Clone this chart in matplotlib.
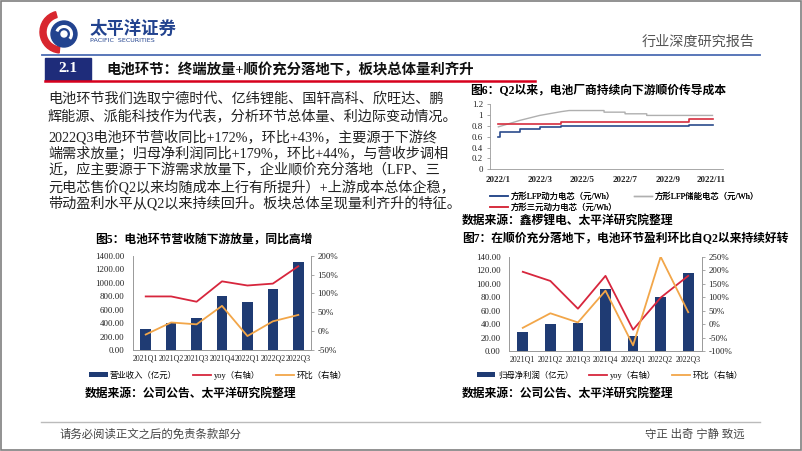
import matplotlib
matplotlib.use("Agg")
import matplotlib.pyplot as plt
import matplotlib.dates as mdates
from matplotlib.patches import Rectangle, Wedge, Circle, Arc
from matplotlib.ticker import FuncFormatter, FixedLocator
from datetime import datetime

plt.rcParams['font.family'] = ['Liberation Serif', 'Noto Sans CJK SC']
plt.rcParams['axes.unicode_minus'] = False

# ---- data ----
quarters = ['2021Q1', '2021Q2', '2021Q3', '2021Q4', '2022Q1', '2022Q2', '2022Q3']

# 图5 营收
revenue = [315, 398, 472, 806, 712, 910, 1305]
revenue_yoy = [92, 92, 78, 132, 121, 126, 172]
revenue_qoq = [-9, 23, 18, 67, -13, 26, 43]

# 图7 归母净利润
profit = [28.5, 39.5, 41.5, 92.0, 22.5, 80.8, 116.5]
profit_yoy = [194, 160, 57, 179, -21, 98, 179]
profit_qoq = [-14, 40, 6, 124, -79, 250, 44]

# 图6 电芯价格 (元/Wh)
lfp_power_dates = ['2022-01-01', '2022-01-04', '2022-02-01', '2022-03-01',
                   '2022-04-01', '2022-10-01', '2022-11-03']
lfp_power = [0.59, 0.69, 0.74, 0.77, 0.80, 0.82, 0.82]
lfp_storage_dates = ['2022-01-01', '2022-02-01', '2022-03-01', '2022-04-01',
                     '2022-04-12', '2022-06-01', '2022-06-01', '2022-07-01',
                     '2022-07-01', '2022-08-01', '2022-08-01', '2022-11-03']
lfp_storage = [0.78, 0.90, 0.99, 1.06, 1.08, 1.08, 1.05, 1.05,
               1.02, 1.02, 0.99, 0.99]
ncm_power_dates = ['2022-01-01', '2022-04-01', '2022-10-01', '2022-11-03']
ncm_power = [0.83, 0.875, 0.92, 0.92]

body_lines = [
    "电池环节我们选取宁德时代、亿纬锂能、国轩高科、欣旺达、鹏",
    "辉能源、派能科技作为代表，分析环节总体量、利边际变动情况。",
    "2022Q3电池环节营收同比+172%，环比+43%，主要源于下游终",
    "端需求放量；归母净利润同比+179%，环比+44%，与营收步调相",
    "近，应主要源于下游需求放量下，企业顺价充分落地（LFP、三",
    "元电芯售价Q2以来均随成本上行有所提升）+上游成本总体企稳，",
    "带动盈利水平从Q2以来持续回升。板块总体呈现量利齐升的特征。",
]

W, H = 802, 451
NAVY = '#1F3B73'
RED = '#D7263D'
ORANGE = '#F2A649'
SPINE = '#9A9A9A'
TXT = '#222222'

fig = plt.figure(figsize=(W / 100, H / 100), dpi=100)
fig.patch.set_facecolor('white')

# background canvas in pixel coordinates
bg = fig.add_axes([0, 0, 1, 1])
bg.set_xlim(0, W)
bg.set_ylim(H, 0)
bg.axis('off')


def px_axes(left, top, right, bottom):
    return fig.add_axes([left / W, 1 - bottom / H, (right - left) / W, (bottom - top) / H])


# slide frame
bg.add_patch(Rectangle((0.8, 0.8), W - 1.6, H - 1.6, fill=False, ec='#7F7F7F', lw=1.2))

# logo
bg.add_patch(Wedge((61, 32), 21, 95, 255, width=6, color='#D8262E'))
bg.add_patch(Circle((64, 34), 13, color='#22438F'))
bg.add_patch(Arc((64, 34), 15, 15, theta1=200, theta2=40, color='white', lw=2.2))
bg.add_patch(Circle((64, 34), 3, color='white'))
bg.text(90, 29, '太平洋证券', fontsize=12.5, fontweight='bold', color='#22438F',
        va='center', ha='left', family=['Noto Sans CJK SC'])
bg.text(90, 40, 'PACIFIC  SECURITIES', fontsize=4.6, color='#22438F',
        va='center', ha='left', family=['DejaVu Sans'])

bg.text(755, 42, '行业深度研究报告', fontsize=10.2, color='#555555', ha='right', va='center')
bg.plot([42, 760], [54.5, 54.5], color='#4C6CB3', lw=1.3)

# section header
bg.add_patch(Rectangle((45, 58), 46, 22, color='#1E2C7A'))
bg.text(68, 69, '2.1', color='white', fontsize=11, fontweight='bold', ha='center', va='center')
bg.text(106, 69.5, '电池环节：终端放量+顺价充分落地下，板块总体量利齐升',
        fontsize=10.4, fontweight='bold', color='#111111', ha='left', va='center')
bg.plot([45, 535], [81, 81], color='#D7001D', lw=1.8)

# body text
for y, line in zip([99, 117, 137, 154, 170, 187, 203], body_lines):
    bg.text(48, y, line, fontsize=10.2, color=TXT, ha='left', va='center')

# footer
bg.plot([41, 760], [421.5, 421.5], color='#BBBBBB', lw=1.0)
bg.text(60, 434, '请务必阅读正文之后的免责条款部分', fontsize=8.2, color='#444444', ha='left', va='center')
bg.text(745, 434, '守正 出奇 宁静 致远', fontsize=8.2, color='#444444', ha='right', va='center')

# figure titles / sources
bg.text(470, 91, '图6：Q2以来，电池厂商持续向下游顺价传导成本', fontsize=8.5,
        fontweight='bold', color='black', ha='left', va='center')
bg.text(462, 221, '数据来源：鑫椤锂电、太平洋研究院整理', fontsize=8.5,
        fontweight='bold', color='black', ha='left', va='center')
bg.text(95, 241, '图5：电池环节营收随下游放量，同比高增', fontsize=8.5,
        fontweight='bold', color='black', ha='left', va='center')
bg.text(85, 394, '数据来源：公司公告、太平洋研究院整理', fontsize=8.5,
        fontweight='bold', color='black', ha='left', va='center')
bg.text(462, 239, '图7：在顺价充分落地下，电池环节盈利环比自Q2以来持续好转', fontsize=8.5,
        fontweight='bold', color='black', ha='left', va='center')
bg.text(462, 394, '数据来源：公司公告、太平洋研究院整理', fontsize=8.5,
        fontweight='bold', color='black', ha='left', va='center')


def style_combo(ax, ax2):
    for a in (ax, ax2):
        a.set_facecolor('none')
        a.spines['top'].set_visible(False)
        for s in ('left', 'right', 'bottom'):
            a.spines[s].set_color(SPINE)
            a.spines[s].set_linewidth(0.6)
    ax.tick_params(axis='y', length=0, pad=6, labelsize=6.4, labelcolor=TXT)
    ax.tick_params(axis='x', length=0, pad=3, labelsize=5.7, labelcolor=TXT)
    ax2.tick_params(axis='y', length=2.5, width=0.6, color=SPINE, pad=2, labelsize=6.4, labelcolor=TXT)
    ax2.yaxis.set_major_formatter(FuncFormatter(lambda v, p: f'{v:.0f}%'))
    ax.yaxis.set_major_formatter(FuncFormatter(lambda v, p: f'{v:.2f}'))
    ax.set_xlim(-0.5, len(quarters) - 0.5)
    ax.set_xticks(range(len(quarters)))
    ax.set_xticklabels(quarters)


def combo_legend(ax, ax2, bar_label, cx):
    h1, _ = ax.get_legend_handles_labels()
    h2, _ = ax2.get_legend_handles_labels()
    leg = bg.legend(h1 + h2, [bar_label, 'yoy（右轴）', '环比（右轴）'], loc='center',
                    bbox_to_anchor=(cx, 375), bbox_transform=bg.transData, ncol=3,
                    frameon=False, fontsize=6, handlelength=2.2, handleheight=0.6,
                    columnspacing=1.9, handletextpad=0.3)
    bg.add_artist(leg)


# ---- 图5 ----
ax5 = px_axes(133, 255.7, 311, 350)
ax5b = ax5.twinx()
ax5.bar(range(len(quarters)), revenue, width=0.42, color=NAVY, label='营业收入（亿元）')
ax5b.plot(range(len(quarters)), revenue_yoy, color=RED, lw=1.3, label='yoy')
ax5b.plot(range(len(quarters)), revenue_qoq, color=ORANGE, lw=1.3, label='qoq')
ax5.set_ylim(0, 1400)
ax5.set_yticks(range(0, 1401, 200))
ax5b.set_ylim(-50, 200)
ax5b.set_yticks(range(-50, 201, 50))
style_combo(ax5, ax5b)
combo_legend(ax5, ax5b, '营业收入（亿元）', 218)

# ---- 图7 ----
ax7 = px_axes(509, 256.7, 702, 351)
ax7b = ax7.twinx()
ax7.bar(range(len(quarters)), profit, width=0.39, color=NAVY, label='归母净利润（亿元）')
ax7b.plot(range(len(quarters)), profit_yoy, color=RED, lw=1.3, label='yoy')
ax7b.plot(range(len(quarters)), profit_qoq, color=ORANGE, lw=1.3, label='qoq')
ax7.set_ylim(0, 140)
ax7.set_yticks(range(0, 141, 20))
ax7b.set_ylim(-100, 250)
ax7b.set_yticks(range(-100, 251, 50))
style_combo(ax7, ax7b)
combo_legend(ax7, ax7b, '归母净利润（亿元）', 610)

# ---- 图6 ----
ax6 = px_axes(490, 104, 723, 169.3)
ax6.set_facecolor('none')


def to_dates(lst):
    return [datetime.strptime(d, '%Y-%m-%d') for d in lst]


l_pow, = ax6.plot(to_dates(lfp_power_dates), lfp_power, drawstyle='steps-post',
                  color='#2B4C8C', lw=1.2, label='方形LFP动力电芯（元/Wh）')
l_sto, = ax6.plot(to_dates(lfp_storage_dates), lfp_storage,
                  color='#AFAFAF', lw=1.0, label='方形LFP储能电芯（元/Wh）')
l_ncm, = ax6.plot(to_dates(ncm_power_dates), ncm_power, drawstyle='steps-post',
                  color='#D62E3E', lw=1.2, label='方形三元动力电芯（元/Wh）')
ax6.set_ylim(0, 1.2)
ax6.set_yticks([0, 0.2, 0.4, 0.6, 0.8, 1.0, 1.2])
ax6.yaxis.set_major_formatter(FuncFormatter(lambda v, p: f'{v:g}'))
ax6.set_xlim(datetime(2021, 12, 20), datetime(2022, 11, 18))
tick_dates = [datetime(2022, m, 1) for m in (1, 3, 5, 7, 9, 11)]
ax6.xaxis.set_major_locator(FixedLocator(mdates.date2num(tick_dates)))
ax6.set_xticklabels([f'2022/{d.month}' for d in tick_dates])
for s in ('top', 'right'):
    ax6.spines[s].set_visible(False)
for s in ('left', 'bottom'):
    ax6.spines[s].set_color(SPINE)
    ax6.spines[s].set_linewidth(0.6)
ax6.tick_params(axis='y', length=2, width=0.6, color=SPINE, pad=3, labelsize=6.4, labelcolor=TXT)
ax6.tick_params(axis='x', length=0, pad=5, labelsize=6.4, labelcolor=TXT)
for lab in ax6.get_xticklabels():
    lab.set_fontweight('bold')

leg6 = bg.legend([l_pow, l_ncm, l_sto], [l_pow.get_label(), l_ncm.get_label(), l_sto.get_label()],
                 loc='upper left', bbox_to_anchor=(484, 187), bbox_transform=bg.transData,
                 ncol=2, frameon=False, fontsize=6, handlelength=2.2, labelspacing=0.3,
                 columnspacing=2.0, handletextpad=0.3, borderpad=0.2)
bg.add_artist(leg6)

fig.savefig('out.png', dpi=100)
